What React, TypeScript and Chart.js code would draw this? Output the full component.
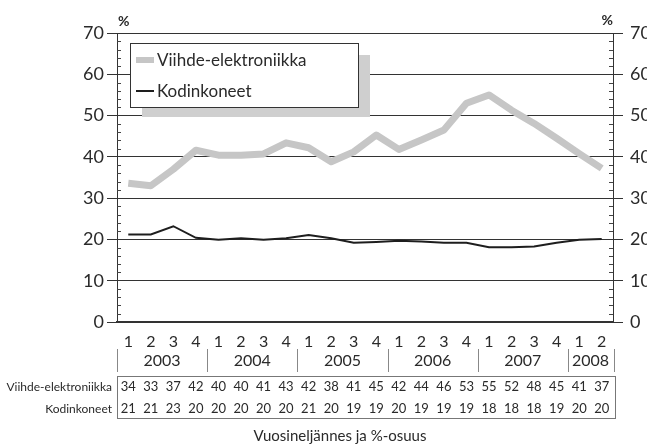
import React, { useEffect, useRef } from "react";
import { Chart, registerables } from "chart.js";

Chart.register(...registerables);

const quarterLabels = ["1","2","3","4","1","2","3","4","1","2","3","4","1","2","3","4","1","2","3","4","1","2"];
const yearLabels = ["2003", "2004", "2005", "2006", "2007", "2008"];
const yearQuarterCounts = [4, 4, 4, 4, 4, 2];

const viihdeValues = [33.6, 33.0, 37.0, 41.6, 40.4, 40.4, 40.7, 43.4, 42.2, 38.8, 41.2, 45.3, 41.8, 44.1, 46.5, 53.0, 55.0, 51.3, 48.1, 44.5, 40.8, 37.2];
const kodinValues = [21.2, 21.2, 23.2, 20.4, 19.9, 20.3, 19.9, 20.3, 21.1, 20.3, 19.2, 19.4, 19.7, 19.5, 19.2, 19.2, 18.1, 18.1, 18.3, 19.2, 19.9, 20.1];

const viihdeTable = [34, 33, 37, 42, 40, 40, 41, 43, 42, 38, 41, 45, 42, 44, 46, 53, 55, 52, 48, 45, 41, 37];
const kodinTable = [21, 21, 23, 20, 20, 20, 20, 20, 21, 20, 19, 19, 20, 19, 19, 19, 18, 18, 18, 19, 20, 20];

const seriesNames = ["Viihde-elektroniikka", "Kodinkoneet"];
const xTitle = "Vuosineljännes ja %-osuus";
const unitLabel = "%";

const FONT = "Lato, 'Liberation Sans', sans-serif";
const TEXT = "#2a2a2a";
const GRAY = "#c6c6c6";
const BLACK = "#1e1e1e";

const extrasPlugin = {
  id: "extras",
  afterDraw(chart: any) {
    const ctx = chart.ctx as CanvasRenderingContext2D;
    const x = chart.scales.x;
    const y = chart.scales.y;
    const area = chart.chartArea;
    ctx.save();

    // minor ticks inward on both y axes
    ctx.strokeStyle = "#444";
    ctx.lineWidth = 1;
    for (let v = 2; v < 70; v += 2) {
      if (v % 10 === 0) continue;
      const py = Math.round(y.getPixelForValue(v)) + 0.5;
      ctx.beginPath();
      ctx.moveTo(area.left, py);
      ctx.lineTo(area.left + 4, py);
      ctx.moveTo(area.right, py);
      ctx.lineTo(area.right - 4, py);
      ctx.stroke();
    }

    // % labels
    ctx.fillStyle = TEXT;
    ctx.font = `bold 14px ${FONT}`;
    ctx.textBaseline = "middle";
    ctx.textAlign = "left";
    ctx.fillText(unitLabel, area.left + 1, 21);
    ctx.textAlign = "right";
    ctx.fillText(unitLabel, area.right, 20);

    // legend with shadow
    const lx = 130, ly = 43, lw = 228, lh = 64;
    ctx.fillStyle = "#cfcfcf";
    ctx.fillRect(lx + 12, ly + 12, lw, lh - 2);
    ctx.fillStyle = "#ffffff";
    ctx.fillRect(lx, ly, lw, lh);
    ctx.strokeStyle = "#333";
    ctx.lineWidth = 1;
    ctx.strokeRect(lx + 0.5, ly + 0.5, lw, lh);
    ctx.lineWidth = 6;
    ctx.strokeStyle = GRAY;
    ctx.beginPath();
    ctx.moveTo(lx + 6, 60);
    ctx.lineTo(lx + 24, 60);
    ctx.stroke();
    ctx.lineWidth = 2;
    ctx.strokeStyle = BLACK;
    ctx.beginPath();
    ctx.moveTo(lx + 6, 91);
    ctx.lineTo(lx + 24, 91);
    ctx.stroke();
    ctx.fillStyle = TEXT;
    ctx.font = `17px ${FONT}`;
    ctx.textAlign = "left";
    ctx.textBaseline = "middle";
    ctx.fillText(seriesNames[0], lx + 27, 61);
    ctx.fillText(seriesNames[1], lx + 27, 92);

    // year row
    const half = (x.getPixelForValue(1) - x.getPixelForValue(0)) / 2;
    ctx.strokeStyle = "#888";
    ctx.lineWidth = 1;
    ctx.font = `16px ${FONT}`;
    ctx.textAlign = "center";
    let idx = 0;
    const sepTop = 349, sepBot = 372;
    for (let i = 0; i < yearLabels.length; i++) {
      const start = x.getPixelForValue(idx) - half;
      const end = x.getPixelForValue(idx + yearQuarterCounts[i] - 1) + half;
      const sx = Math.round(start) + 0.5;
      ctx.beginPath();
      ctx.moveTo(sx, sepTop);
      ctx.lineTo(sx, sepBot);
      ctx.stroke();
      ctx.fillText(yearLabels[i], (start + end) / 2, 361);
      idx += yearQuarterCounts[i];
      if (i === yearLabels.length - 1) {
        const ex = Math.round(end) + 1.5;
        ctx.beginPath();
        ctx.moveTo(ex, sepTop);
        ctx.lineTo(ex, sepBot);
        ctx.stroke();
      }
    }

    // data table
    const tLeft = area.left + 0.5;
    const tRight = area.right + 2.5;
    ctx.strokeStyle = "#777";
    ctx.strokeRect(tLeft, 376.5, tRight - tLeft, 42);
    ctx.font = `13px ${FONT}`;
    ctx.fillStyle = TEXT;
    for (let i = 0; i < quarterLabels.length; i++) {
      const px = x.getPixelForValue(i);
      ctx.fillText(String(viihdeTable[i]), px, 387);
      ctx.fillText(String(kodinTable[i]), px, 409);
    }
    ctx.font = `12px ${FONT}`;
    ctx.textAlign = "right";
    ctx.fillText(seriesNames[0], area.left - 5, 387);
    ctx.fillText(seriesNames[1], area.left - 5, 409);

    // axis title
    ctx.font = `15px ${FONT}`;
    ctx.textAlign = "center";
    ctx.fillText(xTitle, 340, 436);

    ctx.restore();
  },
};

export default function App() {
  const ref = useRef<HTMLCanvasElement>(null);
  useEffect(() => {
    if (!ref.current) return;
    const chart = new Chart(ref.current, {
      type: "line",
      data: {
        labels: quarterLabels,
        datasets: [
          {
            label: seriesNames[0],
            data: viihdeValues,
            borderColor: GRAY,
            borderWidth: 7,
            pointRadius: 0,
            tension: 0,
            borderJoinStyle: "round",
            yAxisID: "y",
          },
          {
            label: seriesNames[1],
            data: kodinValues,
            borderColor: BLACK,
            borderWidth: 2,
            pointRadius: 0,
            tension: 0,
            yAxisID: "y",
          },
        ],
      },
      options: {
        animation: false,
        responsive: false,
        maintainAspectRatio: false,
        layout: { padding: { top: 33, left: 0, right: 0, bottom: 0 } },
        plugins: { legend: { display: false }, tooltip: { enabled: false } },
        scales: {
          x: {
            type: "category",
            offset: true,
            grid: { display: false, drawTicks: false },
            border: { display: true, color: "#333", width: 1.5 },
            ticks: { color: TEXT, font: { size: 16, family: FONT }, padding: 10, maxRotation: 0, autoSkip: false },
            afterFit: (s: any) => { s.height = 123; },
          },
          y: {
            position: "left",
            min: 0,
            max: 70,
            ticks: { stepSize: 10, color: TEXT, font: { size: 18, family: FONT }, padding: 3 },
            grid: { color: "#333", lineWidth: 1, tickLength: 10, drawTicks: true },
            border: { display: true, color: "#333", width: 1 },
            afterFit: (s: any) => { s.width = 117; },
          },
          y2: {
            position: "right",
            min: 0,
            max: 70,
            ticks: { stepSize: 10, color: TEXT, font: { size: 18, family: FONT }, padding: 7 },
            grid: { drawOnChartArea: false, color: "#333", tickLength: 10, drawTicks: true },
            border: { display: true, color: "#333", width: 1 },
            afterFit: (s: any) => { s.width = 34; },
          },
        },
      },
      plugins: [extrasPlugin],
    });
    return () => chart.destroy();
  }, []);
  return (
    <div style={{ position: "fixed", left: 0, top: 0, width: 647, height: 445, background: "#fff" }}>
      <canvas ref={ref} width={647} height={445} style={{ width: 647, height: 445 }} />
    </div>
  );
}
